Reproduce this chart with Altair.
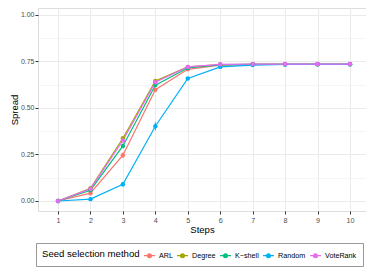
import altair as alt
import pandas as pd

steps = [1, 2, 3, 4, 5, 6, 7, 8, 9, 10]
methods = ["ARL", "Degree", "K\u2212shell", "Random", "VoteRank"]
colors = ["#F8766D", "#A3A500", "#00BF7D", "#00B0F6", "#E76BF3"]

arl = [0.000, 0.042, 0.246, 0.598, 0.708, 0.730, 0.735, 0.736, 0.736, 0.736]
degree = [0.000, 0.068, 0.337, 0.645, 0.721, 0.733, 0.735, 0.735, 0.735, 0.735]
kshell = [0.000, 0.058, 0.296, 0.623, 0.715, 0.732, 0.735, 0.735, 0.735, 0.735]
random_ = [0.000, 0.010, 0.090, 0.402, 0.659, 0.721, 0.731, 0.734, 0.735, 0.735]
voterank = [0.000, 0.065, 0.325, 0.638, 0.721, 0.735, 0.736, 0.736, 0.736, 0.736]

arl_err = [0.0, 0.005, 0.015, 0.010, 0.004, 0.002, 0.001, 0.001, 0.001, 0.001]
degree_err = [0.0, 0.004, 0.010, 0.006, 0.003, 0.001, 0.001, 0.001, 0.001, 0.001]
kshell_err = [0.0, 0.004, 0.012, 0.006, 0.003, 0.001, 0.001, 0.001, 0.001, 0.001]
random_err = [0.0, 0.004, 0.013, 0.022, 0.008, 0.003, 0.001, 0.001, 0.001, 0.001]
voterank_err = [0.0, 0.004, 0.010, 0.006, 0.003, 0.001, 0.001, 0.001, 0.001, 0.001]

y_ticks = [0.0, 0.125, 0.25, 0.375, 0.5, 0.625, 0.75, 0.875, 1.0]

rows = []
for m, vals, errs in zip(methods,
                         [arl, degree, kshell, random_, voterank],
                         [arl_err, degree_err, kshell_err, random_err, voterank_err]):
    for s, v, e in zip(steps, vals, errs):
        rows.append({"Steps": s, "Spread": v, "lo": v - e, "hi": v + e, "method": m})
df = pd.DataFrame(rows)

FONT = "Liberation Sans"
major = "datum.value * 4 % 1 == 0"

x_axis = alt.Axis(values=steps, title="Steps", grid=True, gridColor="#EBEBEB", gridWidth=1,
                  domain=False, ticks=True, tickColor="#333333", tickSize=3, tickWidth=1,
                  labelFont=FONT, labelFontSize=7.2, labelColor="#4D4D4D", labelPadding=2,
                  titleFont=FONT, titleFontSize=9.5, titleFontWeight="normal", titleColor="black",
                  titlePadding=1, labelFlush=False)
y_axis = alt.Axis(values=y_ticks, title="Spread", grid=True, gridColor="#EBEBEB",
                  gridWidth={"condition": {"test": major, "value": 1}, "value": 0.5},
                  domain=False, ticks=True, tickColor="#333333", tickSize=3, tickWidth=1,
                  tickOpacity={"condition": {"test": major, "value": 1}, "value": 0},
                  labelExpr="datum.value * 4 % 1 == 0 ? format(datum.value, '.2f') : ''",
                  labelFont=FONT, labelFontSize=7.0, labelColor="#4D4D4D", labelPadding=1,
                  titleFont=FONT, titleFontSize=9.5, titleFontWeight="normal", titleColor="black",
                  titlePadding=1, labelFlush=False)

xs = alt.Scale(domain=[0.383, 10.493], nice=False, zero=False)
ys = alt.Scale(domain=[-0.0538, 1.0376], nice=False, zero=False)

sym = "M-1,0L1,0M0.36,0A0.36,0.36,0,1,1,-0.36,0A0.36,0.36,0,1,1,0.36,0Z"
legend = alt.Legend(orient="none", legendX=-2, legendY=235, direction="horizontal", columns=5,
                    titleOrient="left", symbolType=sym, symbolSize=121, symbolStrokeWidth=1.1,
                    labelFont=FONT, labelFontSize=7.2, labelColor="black", labelOffset=3,
                    titleFont=FONT, titleFontSize=9.6, titleFontWeight="normal", titleColor="black",
                    titlePadding=3, columnPadding=1, padding=6, strokeColor="#999999",
                    fillColor="white")

color = alt.Color("method:N", scale=alt.Scale(domain=methods, range=colors),
                  title="Seed selection method", legend=legend)

base = alt.Chart(df)
lines = base.mark_line(strokeWidth=1.2).encode(
    x=alt.X("Steps:Q", scale=xs, axis=x_axis),
    y=alt.Y("Spread:Q", scale=ys, axis=y_axis),
    color=color)
err = base.mark_rule(strokeWidth=1).encode(
    x=alt.X("Steps:Q", scale=xs, axis=x_axis),
    y=alt.Y("lo:Q", scale=ys, axis=y_axis),
    y2="hi:Q",
    color=color)
pts = base.mark_point(filled=True, size=20, opacity=1).encode(
    x=alt.X("Steps:Q", scale=xs, axis=x_axis),
    y=alt.Y("Spread:Q", scale=ys, axis=y_axis),
    color=color)

chart = alt.layer(lines, err, pts).properties(
    width=328, height=203, autosize="none",
    padding={"left": 30, "top": 0, "right": 0, "bottom": 56}
).configure_view(stroke="#333333", strokeWidth=1).configure(background="white")

chart.save("out.html", embed_options={"renderer": "svg", "actions": False})
